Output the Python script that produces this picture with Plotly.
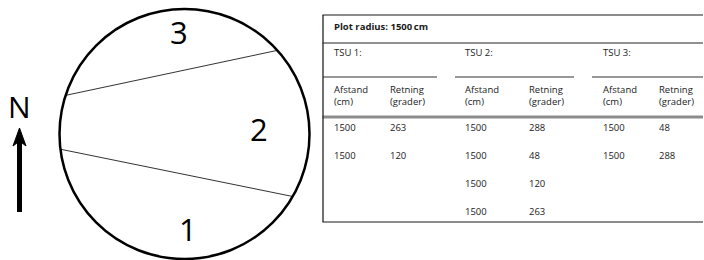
import plotly.graph_objects as go

W, H = 704, 260

# ---- data ----
plot_radius_cm = 1500
tsu_names = ["TSU 1:", "TSU 2:", "TSU 3:"]
tsu1_afstand = [1500, 1500]
tsu1_retning = [263, 120]
tsu2_afstand = [1500, 1500, 1500, 1500]
tsu2_retning = [288, 48, 120, 263]
tsu3_afstand = [1500, 1500]
tsu3_retning = [48, 288]
col_headers = [("Afstand", "(cm)"), ("Retning", "(grader)")]
zone_labels = ["1", "2", "3"]

def px(x):
    return x / W

def py(y):
    return 1 - y / H

fig = go.Figure()

# chords: TSU 1 boundary and TSU 3 boundary
for ret in (tsu1_retning, tsu3_retning):
    fig.add_trace(go.Scatterpolar(
        r=[plot_radius_cm, plot_radius_cm], theta=ret, mode="lines",
        line=dict(color="#333333", width=1), hoverinfo="skip", showlegend=False))

fig.update_layout(
    width=W, height=H, margin=dict(l=0, r=0, t=0, b=0),
    paper_bgcolor="white", plot_bgcolor="white", showlegend=False,
    polar=dict(
        domain=dict(x=[px(59.5), px(309.5)], y=[py(259), py(9)]),
        bgcolor="white",
        radialaxis=dict(visible=False, range=[0, plot_radius_cm]),
        angularaxis=dict(rotation=90, direction="clockwise", showgrid=False,
                         showticklabels=False, ticks="", showline=True,
                         linecolor="black", linewidth=2.5),
    ),
)

ann = []
shapes = []
FONT = "Open Sans"
TXT = "#1a1a1a"

# zone labels
for lab, (x, y) in zip(zone_labels, [(188, 229), (259, 129), (179, 32)]):
    ann.append(dict(x=px(x), y=py(y), xref="paper", yref="paper", text=lab,
                    showarrow=False, xanchor="center", yanchor="middle",
                    font=dict(family=FONT, size=31, color="black")))

# North arrow
ann.append(dict(x=px(19), y=py(106), xref="paper", yref="paper", text="N",
                showarrow=False, xanchor="center", yanchor="middle",
                font=dict(family=FONT, size=30, color="black")))
shapes.append(dict(type="line", xref="paper", yref="paper",
                   x0=px(19.5), x1=px(19.5), y0=py(212), y1=py(140),
                   line=dict(color="black", width=5)))
shapes.append(dict(type="path", xref="paper", yref="paper",
                   path=f"M {px(19.5)} {py(128)} L {px(26)} {py(146)} L {px(19.5)} {py(141)} L {px(13)} {py(146)} Z",
                   fillcolor="black", line=dict(color="black", width=1)))

# table lines
XR = 703
def hline(y, x0, x1, color, width):
    shapes.append(dict(type="line", xref="paper", yref="paper",
                       x0=px(x0), x1=px(x1), y0=py(y), y1=py(y),
                       line=dict(color=color, width=width)))

hline(15, 322.5, XR, "#8c8c8c", 2)
hline(43, 322.5, XR, "#222222", 1)
for x0, x1 in [(323, 437), (455, 574), (592, XR)]:
    hline(77, x0, x1, "#333333", 1.2)
hline(117, 322.5, XR, "#8c8c8c", 3)
hline(222, 322.5, XR, "#8c8c8c", 2)
shapes.append(dict(type="line", xref="paper", yref="paper",
                   x0=px(323), x1=px(323), y0=py(15), y1=py(222),
                   line=dict(color="#222222", width=1.3)))

def text(x, y, s, bold=False, size=9.5):
    ann.append(dict(x=px(x), y=py(y), xref="paper", yref="paper",
                    text=f"<b>{s}</b>" if bold else s, showarrow=False,
                    xanchor="left", yanchor="middle",
                    font=dict(family=FONT, size=size, color=TXT)))

text(332, 27, f"Plot radius: {plot_radius_cm}\u2009cm", bold=True, size=9.5)

col_x = [(332, 388), (463, 527), (601, 657)]
tsu_data = [(tsu1_afstand, tsu1_retning), (tsu2_afstand, tsu2_retning), (tsu3_afstand, tsu3_retning)]
row_y = [127.5, 155.5, 183.5, 211.5]
for name, (xa, xr), (afs, ret) in zip(tsu_names, col_x, tsu_data):
    text(xa, 53, name)
    for (h1, h2), x in zip(col_headers, (xa, xr)):
        text(x, 89.5, h1)
        text(x, 101.5, h2)
    for i, (a, r) in enumerate(zip(afs, ret)):
        text(xa, row_y[i], str(a))
        text(xr, row_y[i], str(r))

fig.update_layout(annotations=ann, shapes=shapes)
fig.write_html("out.html", config={"displayModeBar": False},
               post_script="document.body.style.margin='0';")
